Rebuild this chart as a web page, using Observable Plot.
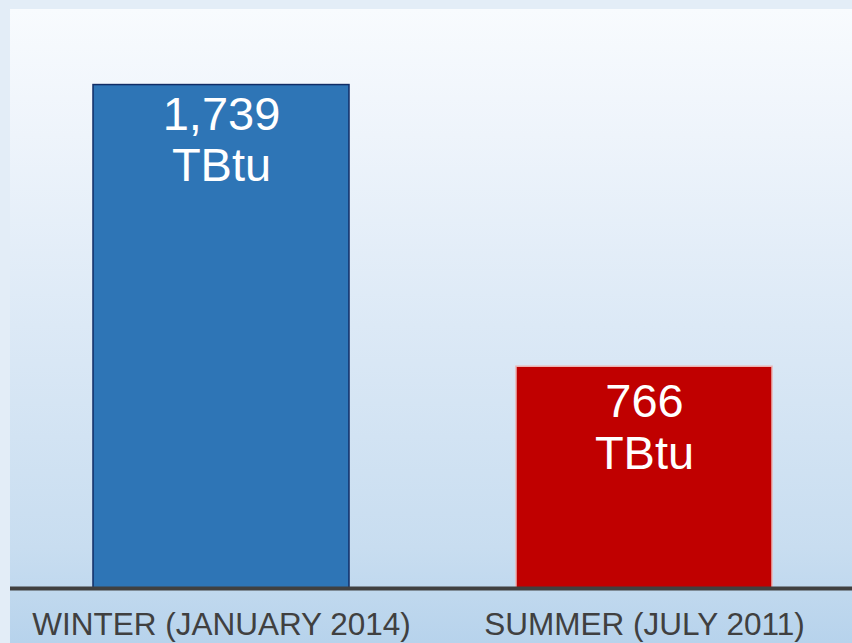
<!DOCTYPE html>
<html>
<head>
<meta charset="utf-8">
<script src="https://cdn.jsdelivr.net/npm/d3@7"></script>
<script src="https://cdn.jsdelivr.net/npm/@observablehq/plot@0.6"></script>
<style>
  html, body { margin: 0; padding: 0; }
  body { width: 852px; height: 643px; background: #e3edf7; position: relative; overflow: hidden; font-family: "Liberation Sans", Arial, sans-serif; }
  #panel { position: absolute; left: 10px; top: 9px; right: 0; bottom: 0;
    background: linear-gradient(to bottom, #f8fbfe 0%, #eef4fb 20%, #dce9f6 50%, #c8ddf0 85%, #b7d3ec 100%); }
  #chart { position: absolute; left: 0; top: 0; }
</style>
</head>
<body>
<div id="panel"></div>
<div id="chart"></div>
<script>
const categories = ["WINTER (JANUARY 2014)", "SUMMER (JULY 2011)"];
const values = [1739, 766];
const labels = ["1,739\nTBtu", "766\nTBtu"];
const fills = ["#2e75b6", "#c00000"];
const strokes = ["#112d66", "#eab4b4"];

const data = categories.map((c, i) => ({cat: c, value: values[i], label: labels[i], fill: fills[i], stroke: strokes[i]}));

const plot = Plot.plot({
  width: 852,
  height: 643,
  marginTop: 9,
  marginBottom: 55,
  marginLeft: 10,
  marginRight: 0,
  style: {background: "transparent", fontFamily: "Liberation Sans, Arial, sans-serif"},
  x: {domain: categories, range: [12, 854], paddingInner: 0.394, paddingOuter: 0.19, label: null},
  y: {domain: [0, 2000], axis: null},
  marks: [
    Plot.barY(data, {x: "cat", y: "value", fill: "fill", stroke: "stroke", strokeWidth: 1.5}),
    Plot.text(data.slice(0, 1), {x: "cat", y: "value", text: "label", fill: "white", fontSize: 47, lineHeight: 1.1, lineAnchor: "top", dy: 8}),
    Plot.text(data.slice(1), {x: "cat", y: "value", text: "label", fill: "white", fontSize: 47, lineHeight: 1.1, lineAnchor: "top", dy: 14}),
    Plot.ruleY([0], {stroke: "#404040", strokeWidth: 4}),
    Plot.axisX({tickSize: 0, tickPadding: 24, fontSize: 31.5, fill: "#404040", label: null})
  ]
});
document.getElementById("chart").appendChild(plot);
</script>
</body>
</html>
